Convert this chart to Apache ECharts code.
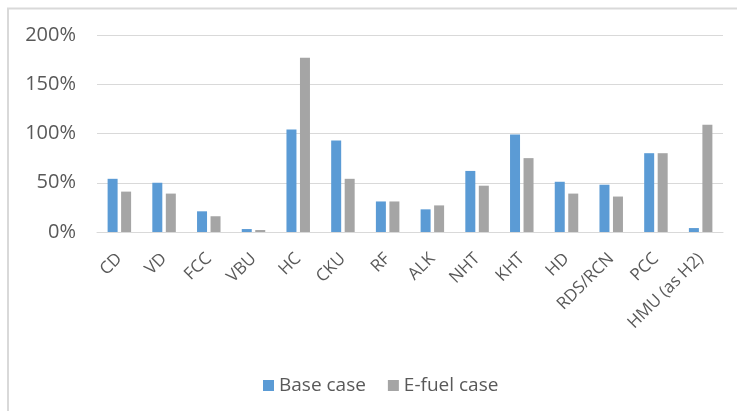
<!DOCTYPE html>
<html>
<head>
<meta charset="utf-8">
<script src="https://cdn.jsdelivr.net/npm/echarts@6/dist/echarts.min.js"></script>
<style>
  html, body { margin: 0; padding: 0; background: #fff; }
  #main { width: 737px; height: 411px; }
</style>
</head>
<body>
<div id="main"></div>
<script>
'use strict';

// units on the x axis
var categories = ['CD', 'VD', 'FCC', 'VBU', 'HC', 'CKU', 'RF', 'ALK', 'NHT', 'KHT', 'HD', 'RDS/RCN', 'PCC', 'HMU (as H2)'];
// utilisation in percent
var baseCase = [54, 50, 21, 3, 104, 93, 31, 23, 62, 99, 51, 48, 80, 4];
var efuelCase = [41, 39, 16, 2, 177, 54, 31, 27, 47, 75, 39, 36, 80, 109];
var yTicks = [0, 50, 100, 150, 200];

var myChart = echarts.init(document.getElementById('main'));

var font = '"Open Sans", Lato, sans-serif';

var option = {
	animation: false,
	textStyle: { fontFamily: font },
	grid: {
		left: 97,
		right: 14,
		top: 35,
		bottom: 179
	},
	legend: {
		left: 258,
		top: 371,
		itemWidth: 11,
		itemHeight: 11,
		itemGap: 22,
		icon: 'rect',
		textStyle: { fontSize: 19, color: '#595959', fontFamily: font },
		data: ['Base case', 'E-fuel case']
	},
	xAxis: {
		type: 'category',
		data: categories,
		axisTick: { show: false },
		axisLine: { lineStyle: { color: '#D9D9D9', width: 1 } },
		axisLabel: {
			rotate: 45,
			interval: 0,
			fontSize: 17,
			color: '#595959',
			margin: 24
		}
	},
	yAxis: {
		type: 'value',
		min: yTicks[0],
		max: yTicks[yTicks.length - 1],
		interval: 50,
		axisLine: { show: false },
		axisTick: { show: false },
		splitLine: { lineStyle: { color: '#D9D9D9', width: 1 } },
		axisLabel: {
			fontSize: 20,
			color: '#595959',
			margin: 21,
			formatter: function(v) { return v + '%'; }
		}
	},
	series: [
		{
			name: 'Base case',
			type: 'bar',
			data: baseCase,
			barWidth: 10,
			barGap: '35%',
			itemStyle: { color: '#5B9BD5' }
		},
		{
			name: 'E-fuel case',
			type: 'bar',
			data: efuelCase,
			barWidth: 10,
			itemStyle: { color: '#A5A5A5' }
		}
	],
	graphic: [
		// chart area frame (top and left edges visible)
		{
			type: 'polyline',
			shape: { points: [[8, 411], [8, 8.5], [737, 8.5]] },
			style: { stroke: '#D9D9D9', lineWidth: 2, fill: null }
		}
	]
};

myChart.setOption(option);
</script>
</body>
</html>
